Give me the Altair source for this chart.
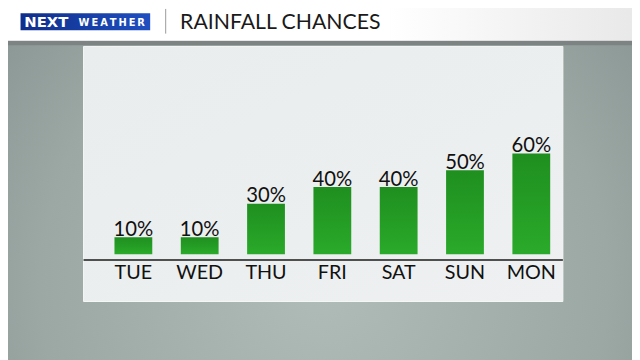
import altair as alt
import pandas as pd

days = ["TUE", "WED", "THU", "FRI", "SAT", "SUN", "MON"]
chances = [10, 10, 30, 40, 40, 50, 60]
labels = [f"{v}%" for v in chances]

df = pd.DataFrame({"day": days, "chance": chances, "label": labels})
one = pd.DataFrame({"k": [0]})

OX, OY = 8, 8  # page margin offset

def px(x):
    return x - OX

def py(y):
    return y - OY

x_scale = alt.Scale(domain=days, range=[px(101.4), px(571.6)], paddingInner=0.43, paddingOuter=0.215)
y_scale = alt.Scale(domain=[-3.5, 100], range=[py(261), py(261) - 103.5 * 1.7])

bg = alt.Chart(one).mark_rect(
    color=alt.RadialGradient(
        gradient="radial",
        stops=[alt.GradientStop(color="#b0bcb8", offset=0),
               alt.GradientStop(color="#9ba8a4", offset=0.6),
               alt.GradientStop(color="#838e8c", offset=1)],
        x1=0.5, y1=0.65, r1=0, x2=0.5, y2=0.65, r2=0.75)
).encode(x=alt.value(0), x2=alt.value(640), y=alt.value(0), y2=alt.value(360))

shadow = alt.Chart(one).mark_rect(color="#7d8383").encode(
    x=alt.value(0), x2=alt.value(640), y=alt.value(py(39)), y2=alt.value(py(43.5)))

header = alt.Chart(one).mark_rect(
    color=alt.LinearGradient(
        gradient="linear",
        stops=[alt.GradientStop(color="#ffffff", offset=0),
               alt.GradientStop(color="#ffffff", offset=0.6),
               alt.GradientStop(color="#e8e8e8", offset=1)],
        x1=0, x2=1, y1=0, y2=0)
).encode(x=alt.value(0), x2=alt.value(640), y=alt.value(-10), y2=alt.value(py(39)))

logo = alt.Chart(one).mark_rect(
    color=alt.LinearGradient(
        gradient="linear",
        stops=[alt.GradientStop(color="#0f2e8a", offset=0),
               alt.GradientStop(color="#1f4fc0", offset=1)],
        x1=0, x2=1, y1=0, y2=0)
).encode(x=alt.value(px(20.7)), x2=alt.value(px(152)), y=alt.value(py(11)), y2=alt.value(py(28.3)))

logo_next = alt.Chart(one).mark_text(
    text="NEXT", color="white", font="DejaVu Sans", fontWeight="bold", fontSize=15,
    align="left", baseline="alphabetic"
).encode(x=alt.value(px(24.5)), y=alt.value(py(24.6)))

logo_weather = alt.Chart(one).mark_text(
    text="W\u2009E\u2009A\u2009T\u2009H\u2009E\u2009R", color="white", font="DejaVu Sans",
    fontWeight="bold", fontSize=10, align="left", baseline="alphabetic"
).encode(x=alt.value(px(79.5)), y=alt.value(py(24)))

divider = alt.Chart(one).mark_rule(color="#9a9a9a", strokeWidth=1).encode(
    x=alt.value(px(167.7)), y=alt.value(py(6.7)), y2=alt.value(py(31.7)))

title = alt.Chart(one).mark_text(
    text="RAINFALL CHANCES", color="#1a1a1a", font="Lato", fontSize=21.5,
    align="left", baseline="alphabetic"
).encode(x=alt.value(px(182.3)), y=alt.value(py(26.7)))

panel = alt.Chart(one).mark_rect(
    color=alt.LinearGradient(
        gradient="linear",
        stops=[alt.GradientStop(color="#e9eded", offset=0),
               alt.GradientStop(color="#eef0f1", offset=1)],
        x1=0, x2=1, y1=0, y2=1),
    stroke="#f6f7f7", strokeWidth=1
).encode(x=alt.value(px(84.5)), x2=alt.value(px(570)), y=alt.value(py(44.7)), y2=alt.value(py(303)))

bars = alt.Chart(df).mark_bar(
    color=alt.LinearGradient(
        gradient="linear",
        stops=[alt.GradientStop(color="#1f8f1f", offset=0),
               alt.GradientStop(color="#2aaa2a", offset=1)],
        x1=0, x2=0, y1=0, y2=1)
).encode(
    x=alt.X("day:N", scale=x_scale, axis=None, sort=days),
    y=alt.Y("chance:Q", scale=y_scale, axis=None),
    y2=alt.value(py(261)),
)

values = alt.Chart(df).mark_text(
    font="Lato", fontSize=20.5, color="#111111", baseline="alphabetic", dy=-1.5
).encode(
    x=alt.X("day:N", scale=x_scale, axis=None, sort=days),
    y=alt.Y("chance:Q", scale=y_scale, axis=None),
    text="label:N",
)

baseline = alt.Chart(one).mark_rule(color="#1a1a1a", strokeWidth=1.5).encode(
    x=alt.value(px(84.5)), x2=alt.value(px(570)), y=alt.value(py(261)))

day_labels = alt.Chart(df).mark_text(
    font="Lato", fontSize=20, color="#111111", baseline="alphabetic"
).encode(
    x=alt.X("day:N", scale=x_scale, axis=None, sort=days),
    y=alt.value(py(280.5)),
    text="day:N",
)

chart = alt.layer(
    bg, shadow, header, logo, logo_next, logo_weather, divider, title,
    panel, bars, values, baseline, day_labels
).properties(
    width=632, height=352, padding=0, autosize="none"
).configure_view(strokeWidth=0)

chart.save("out.html", embed_options={"renderer": "svg", "actions": False})
